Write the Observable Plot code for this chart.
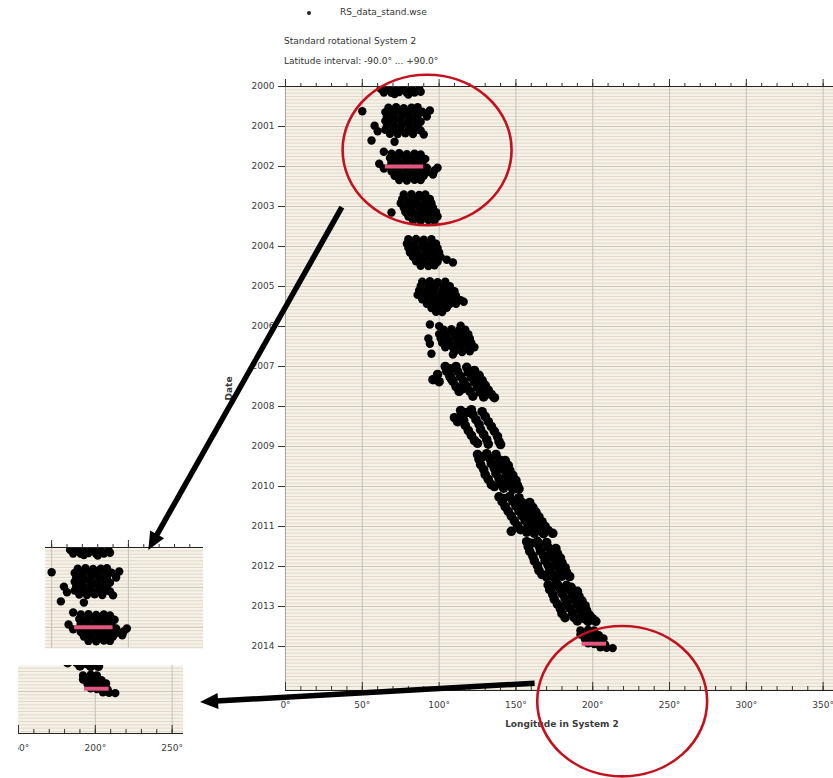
<!DOCTYPE html>
<html><head><meta charset="utf-8">
<script src="https://cdn.jsdelivr.net/npm/d3@7"></script>
<script src="https://cdn.jsdelivr.net/npm/@observablehq/plot@0.6"></script>
<style>
html,body{margin:0;padding:0;overflow:hidden;background:#fff;}
#page{position:relative;width:833px;height:778px;overflow:hidden;font-family:"DejaVu Sans",sans-serif;color:#333;}
.abs{position:absolute;}
.hdr{position:absolute;font-size:9px;white-space:pre;line-height:1;color:#333;}
[aria-label="x-axis label"],[aria-label="y-axis label"]{font-weight:bold;}
</style></head><body><div id="page"></div>
<script>
// ---- header texts ----
const fileName = "RS_data_stand.wse";
const systemTitle = "Standard rotational System 2";
const latitudeText = "Latitude interval: -90.0° ... +90.0°";
const xLabel = "Longitude in System 2";
const yLabel = "Date";

// ---- ticks ----
const lonTicks = [0, 50, 100, 150, 200, 250, 300, 350];
const lonMinor = [0,10,20,30,40,50,60,70,80,90,100,110,120,130,140,150,160,170,180,190,200,210,220,230,240,250,260,270,280,290,300,310,320,330,340,350,360];
const yearTicks = [2000,2001,2002,2003,2004,2005,2006,2007,2008,2009,2010,2011,2012,2013,2014];

// ---- GRS longitude measurements [longitude (deg, System II), date (decimal year)] ----
const obs2000 = [[62,2000.06],[67,2000.05],[72,2000.07],[77,2000.05],[82,2000.07],[87,2000.06],[64,2000.15],[69,2000.16],[74,2000.14],[79,2000.16],[84,2000.15],[88,2000.13],[71,2000.19],[80,2000.2]];
const obs2001 = [[67,2000.53],[72,2000.52],[77,2000.54],[82,2000.53],[86,2000.52],[65,2000.64],[70,2000.65],[75,2000.63],[80,2000.65],[85,2000.64],[89,2000.63],[66,2000.75],[71,2000.76],[76,2000.74],[81,2000.76],[86,2000.75],[65,2000.86],[70,2000.87],[75,2000.85],[80,2000.87],[85,2000.86],[88,2000.88],[66,2000.97],[71,2000.98],[76,2000.96],[81,2000.98],[86,2000.97],[65,2001.08],[70,2001.09],[75,2001.07],[80,2001.09],[85,2001.08],[88,2001.1],[68,2001.18],[73,2001.19],[78,2001.17],[83,2001.19],[50,2000.62],[94,2000.6],[58,2000.98],[60,2001.12],[90,2001.2],[56,2001.35],[71,2001.38],[92,2000.75]];
const obs2002 = [[69,2001.68],[74,2001.67],[79,2001.69],[84,2001.68],[88,2001.7],[68,2001.79],[73,2001.8],[78,2001.78],[83,2001.8],[88,2001.79],[91,2001.81],[69,2001.9],[74,2001.91],[79,2001.89],[84,2001.91],[89,2001.9],[68,2002.01],[73,2002.02],[78,2002.0],[83,2002.02],[88,2002.01],[92,2002.03],[69,2002.12],[74,2002.13],[79,2002.11],[84,2002.13],[89,2002.12],[92,2002.14],[71,2002.23],[76,2002.24],[81,2002.22],[86,2002.24],[90,2002.23],[74,2002.34],[79,2002.35],[84,2002.33],[88,2002.34],[61,2001.93],[64,2001.63],[99,2002.03],[96,2002.2],[97,2002.1],[64,2002.05]];
const obs2003 = [[77,2002.7],[82,2002.69],[87,2002.71],[91,2002.7],[76,2002.81],[81,2002.82],[86,2002.8],[91,2002.82],[94,2002.81],[75,2002.92],[80,2002.93],[85,2002.91],[90,2002.93],[95,2002.92],[77,2003.03],[82,2003.04],[87,2003.02],[92,2003.04],[96,2003.03],[78,2003.14],[83,2003.15],[88,2003.13],[93,2003.15],[98,2003.14],[80,2003.25],[85,2003.26],[90,2003.24],[95,2003.26],[99,2003.25],[83,2003.35],[88,2003.36],[93,2003.34],[97,2003.36],[69,2003.15]];
const obs2004 = [[80,2003.82],[85,2003.81],[90,2003.83],[95,2003.82],[79,2003.93],[84,2003.94],[89,2003.92],[94,2003.94],[98,2003.93],[80,2004.04],[85,2004.05],[90,2004.03],[95,2004.05],[99,2004.04],[81,2004.15],[86,2004.16],[91,2004.14],[96,2004.16],[100,2004.15],[83,2004.26],[88,2004.27],[93,2004.25],[98,2004.27],[101,2004.26],[85,2004.37],[90,2004.38],[95,2004.36],[99,2004.38],[88,2004.48],[93,2004.49],[97,2004.47],[109,2004.4],[105,2004.33]];
const obs2005 = [[89,2004.88],[94,2004.87],[99,2004.89],[104,2004.88],[88,2004.99],[93,2005.0],[98,2004.98],[103,2005.0],[107,2004.99],[87,2005.1],[92,2005.11],[97,2005.09],[102,2005.11],[107,2005.1],[110,2005.12],[86,2005.21],[91,2005.22],[96,2005.2],[101,2005.22],[106,2005.21],[111,2005.23],[89,2005.32],[94,2005.33],[99,2005.31],[104,2005.33],[109,2005.32],[114,2005.34],[116,2005.38],[92,2005.43],[97,2005.44],[102,2005.42],[107,2005.44],[111,2005.43],[95,2005.54],[100,2005.55],[105,2005.53],[98,2005.63],[102,2005.64]];
const obs2006 = [[94,2005.95],[100,2005.99],[114,2005.98],[94,2006.43],[95,2006.68],[109,2006.7],[93,2006.3],[103,2006.08],[108,2006.07],[113,2006.09],[117,2006.08],[100,2006.19],[105,2006.2],[110,2006.18],[115,2006.2],[119,2006.19],[101,2006.3],[106,2006.31],[111,2006.29],[116,2006.31],[120,2006.3],[102,2006.41],[107,2006.42],[112,2006.4],[117,2006.42],[121,2006.41],[104,2006.52],[109,2006.53],[114,2006.51],[119,2006.53],[123,2006.52],[110,2006.63],[115,2006.64],[120,2006.62]];
const obs2007 = [[104,2007.0],[105,2007.12],[107,2007.25],[109,2007.37],[111,2007.5],[113,2007.62],[111,2007.0],[112,2007.12],[114,2007.25],[116,2007.37],[118,2007.5],[120,2007.62],[122,2007.74],[118,2007.02],[119,2007.14],[121,2007.27],[123,2007.39],[125,2007.52],[127,2007.64],[129,2007.76],[123,2007.1],[126,2007.22],[128,2007.35],[130,2007.47],[132,2007.59],[134,2007.7],[136,2007.78],[96,2007.33],[100,2007.38],[99,2007.2],[107,2007.06],[115,2007.56],[108,2007.31]];
const obs2008 = [[114,2008.1],[115,2008.22],[116,2008.35],[117,2008.47],[119,2008.6],[121,2008.72],[123,2008.85],[121,2008.08],[122,2008.2],[124,2008.33],[126,2008.45],[127,2008.58],[129,2008.7],[131,2008.83],[132,2008.94],[128,2008.13],[130,2008.25],[132,2008.38],[134,2008.5],[136,2008.62],[138,2008.75],[139,2008.88],[140,2008.95],[110,2008.28],[112,2008.38],[125,2008.92],[118,2008.15]];
const obs2009 = [[125,2009.2],[126,2009.32],[127,2009.45],[129,2009.57],[130,2009.7],[132,2009.82],[134,2009.95],[131,2009.18],[133,2009.3],[134,2009.43],[136,2009.55],[137,2009.68],[139,2009.8],[141,2009.93],[142,2010.04],[137,2009.2],[139,2009.33],[140,2009.46],[142,2009.58],[144,2009.71],[145,2009.84],[147,2009.96],[148,2010.07],[143,2009.35],[145,2009.47],[146,2009.6],[148,2009.72],[150,2009.85],[151,2009.97],[152,2010.06],[136,2010.0],[128,2009.26]];
const obs2010 = [[139,2010.26],[141,2010.38],[143,2010.5],[145,2010.62],[147,2010.74],[149,2010.86],[151,2010.98],[153,2011.08],[146,2010.25],[148,2010.37],[150,2010.49],[152,2010.61],[154,2010.73],[156,2010.85],[158,2010.97],[160,2011.09],[162,2011.17],[152,2010.28],[154,2010.4],[156,2010.52],[158,2010.64],[160,2010.76],[162,2010.88],[164,2010.99],[166,2011.1],[168,2011.18],[159,2010.4],[161,2010.52],[163,2010.64],[165,2010.76],[167,2010.88],[169,2011.0],[171,2011.1],[174,2011.17],[147,2011.12],[142,2010.3],[157,2011.14]];
const obs2011 = [[157,2011.38],[158,2011.5],[159,2011.62],[161,2011.74],[162,2011.86],[164,2011.98],[165,2012.1],[167,2012.2],[164,2011.37],[165,2011.49],[166,2011.61],[168,2011.73],[169,2011.85],[171,2011.97],[172,2012.09],[174,2012.21],[175,2012.28],[170,2011.4],[171,2011.52],[173,2011.64],[174,2011.76],[176,2011.88],[177,2012.0],[179,2012.12],[180,2012.24],[176,2011.55],[177,2011.67],[179,2011.79],[180,2011.91],[182,2012.03],[183,2012.15],[185,2012.25],[160,2011.42],[170,2012.26]];
const obs2012 = [[171,2012.46],[172,2012.58],[174,2012.7],[175,2012.82],[177,2012.94],[179,2013.06],[180,2013.18],[182,2013.28],[177,2012.44],[179,2012.56],[180,2012.68],[182,2012.8],[183,2012.92],[185,2013.04],[187,2013.16],[188,2013.28],[190,2013.36],[183,2012.47],[185,2012.59],[187,2012.71],[188,2012.83],[190,2012.95],[192,2013.07],[193,2013.19],[195,2013.31],[197,2013.37],[190,2012.62],[191,2012.74],[193,2012.86],[195,2012.98],[196,2013.1],[198,2013.22],[200,2013.31],[202,2013.37],[186,2012.52],[174,2012.5]];
const obs2013 = [[192,2013.6],[197,2013.58],[201,2013.6],[192,2013.7],[196,2013.72],[200,2013.7],[204,2013.72],[195,2013.82],[199,2013.84],[203,2013.82],[207,2013.8],[197,2013.92],[201,2013.94],[205,2013.9],[208,2013.95],[205,2014.02],[209,2014.03],[213,2014.04]];

// mean drift markers (pink bars)
const meanLon1 = [65, 193];
const meanLon2 = [90, 209];
const meanYear = [2002.0, 2013.93];

// annotations (data coordinates)
const ringLon = [92.5, 219.5], ringYear = [2001.6, 2015.38], ringRLon = [55, 55.3], ringRYear = [1.88, 1.88];
const arrowLon1 = [37, 162.5], arrowYear1 = [2003.03, 2014.93], arrowLon2 = [-89, -55.3], arrowYear2 = [2011.6, 2015.4];

const toRows = groups => groups.flat().map(([lon, year]) => ({lon, year}));
const blobObs = toRows([obs2000,obs2001,obs2002,obs2003,obs2004,obs2005,obs2006,obs2013]);
const streakObs = toRows([obs2007,obs2008,obs2009,obs2010,obs2011,obs2012]);
const means = meanYear.map((y, i) => ({year: y, lon1: meanLon1[i], lon2: meanLon2[i]}));

const cream = "#f6f2e8";
const font = {fontFamily: "DejaVu Sans, sans-serif", fontSize: "9px", color: "#3a3a3a", overflow: "hidden"};

function baseMarks(xd, yd) {
  const inY = v => v >= yd[0] - 1e-9 && v <= yd[1] + 1e-9;
  const months = d3.range(2000 * 12, 2016 * 12).map(m => m / 12).filter(inY);
  const years = yearTicks.filter(inY);
  const grid = lonTicks.filter(v => v > xd[0] && v < xd[1]);
  return [
    Plot.frame({fill: cream, stroke: null}),
    Plot.gridY(months, {stroke: "#e0d9cb", strokeOpacity: 1}),
    Plot.gridY(years, {stroke: "#cfc7b8", strokeOpacity: 1}),
    Plot.gridX(grid, {stroke: "#c6c1b8", strokeOpacity: 1}),
    Plot.dot(blobObs, {x: "lon", y: "year", r: 4.2, fill: "#000", stroke: null, clip: true}),
    Plot.dot(streakObs, {x: "lon", y: "year", r: 4.8, fill: "#000", stroke: null, clip: true}),
    Plot.ruleY(means, {y: "year", x1: "lon1", x2: "lon2", stroke: "#e2567f", strokeWidth: 4, clip: true})
  ];
}
const inX = xd => v => v >= xd[0] && v <= xd[1];

// ---- main chart ----
const page = document.getElementById("page");
const xMain = [0, 360], yMain = [2000, 2015.1];
const main = Plot.plot({
  width: 838, height: 778,
  marginLeft: 285, marginRight: 0, marginTop: 86, marginBottom: 88,
  x: {domain: xMain}, y: {domain: yMain, reverse: true},
  style: {...font, background: "white", maxWidth: "none", overflow: "visible"},
  marks: [
    ...baseMarks(xMain, yMain),
    Plot.frame({anchor: "left", stroke: "#a8a49b"}),
    Plot.frame({anchor: "top", stroke: "#222"}),
    Plot.frame({anchor: "bottom", stroke: "#222"}),
    Plot.axisX({anchor: "top", ticks: lonMinor, tickSize: 4, tickFormat: () => "", label: null, stroke: "#333"}),
    Plot.axisX({anchor: "top", ticks: lonTicks, tickSize: 8, tickFormat: () => "", label: null, stroke: "#333"}),
    Plot.axisX({anchor: "bottom", ticks: lonMinor, tickSize: -4, tickFormat: () => "", label: null, stroke: "#333"}),
    Plot.axisX({anchor: "bottom", ticks: lonTicks, tickSize: -8, tickFormat: () => "", label: null, stroke: "#333"}),
    Plot.axisX({anchor: "bottom", ticks: lonTicks, tickSize: 0, tickPadding: 11, tickFormat: d => d + "°", label: xLabel, labelAnchor: "center", labelOffset: 36, labelArrow: "none"}),
    Plot.axisY({anchor: "left", ticks: yearTicks, tickSize: 7, tickPadding: 4, tickFormat: d => String(d), label: yLabel, labelAnchor: "center", labelOffset: 60, labelArrow: "none", stroke: "#333"})
  ]
});
main.style.position = "absolute"; main.style.left = "0px"; main.style.top = "0px";
page.appendChild(main);

// header
function hdr(text, left, top) {
  const d = document.createElement("div");
  d.className = "hdr"; d.textContent = text; d.style.left = left + "px"; d.style.top = top + "px";
  page.appendChild(d);
}
const bullet = document.createElement("div");
bullet.className = "abs";
Object.assign(bullet.style, {left: "307px", top: "10.5px", width: "4px", height: "4px", borderRadius: "50%", background: "#222"});
page.appendChild(bullet);
hdr(fileName, 340, 8);
hdr(systemTitle, 284, 37);
hdr(latitudeText, 284, 57);

// ---- insets (enlarged views) ----
function inset(xd, yd, w, h, mt, mb, anchor, left, top) {
  const marks = [...baseMarks(xd, yd)];
  const minor = lonMinor.filter(inX(xd)), major = lonTicks.filter(inX(xd));
  if (anchor === "top") {
    marks.push(
      Plot.frame({anchor: "top", stroke: "#222"}),
      Plot.axisX({anchor: "top", ticks: minor, tickSize: 4, tickFormat: () => "", label: null, stroke: "#333"}),
      Plot.axisX({anchor: "top", ticks: major, tickSize: 8, tickFormat: () => "", label: null, stroke: "#333"})
    );
  } else {
    marks.push(
      Plot.frame({anchor: "bottom", stroke: "#222"}),
      Plot.axisX({anchor: "bottom", ticks: minor, tickSize: -4, tickFormat: () => "", label: null, stroke: "#333"}),
      Plot.axisX({anchor: "bottom", ticks: major, tickSize: -8, tickFormat: () => "", label: null, stroke: "#333"}),
      Plot.axisX({anchor: "bottom", ticks: major, tickSize: 0, tickPadding: 11, tickFormat: d => d + "°", label: null})
    );
  }
  const p = Plot.plot({
    width: w, height: h, marginLeft: 0, marginRight: 0, marginTop: mt, marginBottom: mb,
    x: {domain: xd}, y: {domain: yd, reverse: true, axis: null},
    style: {...font, background: "transparent"},
    marks
  });
  const box = document.createElement("div");
  box.className = "abs";
  Object.assign(box.style, {left: left + "px", top: top + "px", width: w + "px", height: h + "px", overflow: "hidden"});
  box.appendChild(p);
  page.appendChild(box);
}
inset([46, 148.9], [2000, 2002.53], 158, 114, 12, 1, "top", 45, 535);
inset([150, 257.4], [2013.35, 2015.05], 165, 100, 5, 27, "bottom", 18, 660);

// ---- annotation overlay ----
const sx = v => main.scale("x").apply(v), sy = v => main.scale("y").apply(v);
const ov = d3.select(page).append("svg").attr("class", "abs")
  .attr("width", 833).attr("height", 778).style("left", "0px").style("top", "0px");
ringLon.forEach((lon, i) => {
  const cx = sx(lon), cy = sy(ringYear[i]);
  ov.append("ellipse").attr("cx", cx).attr("cy", cy)
    .attr("rx", sx(lon + ringRLon[i]) - cx).attr("ry", sy(ringYear[i] + ringRYear[i]) - cy)
    .attr("fill", "none").attr("stroke", "#c3111d").attr("stroke-width", 2.6);
});
arrowLon1.forEach((lon, i) => {
  const x1 = sx(lon), y1 = sy(arrowYear1[i]), x2 = sx(arrowLon2[i]), y2 = sy(arrowYear2[i]);
  const L = Math.hypot(x2 - x1, y2 - y1), ux = (x2 - x1) / L, uy = (y2 - y1) / L;
  const hl = 18, hw = 8;
  const bx = x2 - ux * hl, by = y2 - uy * hl;
  ov.append("line").attr("x1", x1).attr("y1", y1).attr("x2", bx + ux * 2).attr("y2", by + uy * 2)
    .attr("stroke", "#000").attr("stroke-width", 5.5);
  ov.append("polygon").attr("points", [[x2, y2], [bx - uy * hw, by + ux * hw], [bx + uy * hw, by - ux * hw]].map(p => p.join(",")).join(" "))
    .attr("fill", "#000");
});
</script></body></html>
